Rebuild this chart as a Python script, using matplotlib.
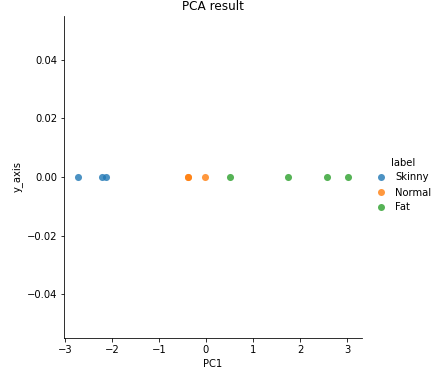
import matplotlib
matplotlib.use("Agg")
import matplotlib.pyplot as plt
from matplotlib.lines import Line2D
import numpy as np

labels = ["Skinny", "Normal", "Fat"]
colors = ["#1f77b4", "#ff7f0e", "#2ca02c"]
pc1_skinny = [-2.73, -2.22, -2.12]
pc1_normal = [-0.385, -0.38, -0.01]
pc1_fat = [0.51, 1.75, 2.58, 3.03]
series = [pc1_skinny, pc1_normal, pc1_fat]

W, H = 435, 374
fig = plt.figure(figsize=(W / 72, H / 72), dpi=72)
ax = fig.add_axes([64 / W, (H - 338) / H, (362 - 64) / W, (338 - 16) / H])

handles = []
for lab, col, xs in zip(labels, colors, series):
    ax.scatter(xs, np.zeros(len(xs)), s=50, color=col, alpha=0.8,
               linewidths=0, label=lab)
    handles.append(Line2D([], [], marker="o", linestyle="", markersize=7,
                          markerfacecolor=col, markeredgewidth=0, alpha=0.8))

ax.set_xlim(-3.02, 3.32)
ax.set_ylim(-0.055, 0.055)
ax.set_xticks([-3, -2, -1, 0, 1, 2, 3])
ax.set_yticks([-0.04, -0.02, 0.0, 0.02, 0.04])
ax.spines["top"].set_visible(False)
ax.spines["right"].set_visible(False)
ax.set_xlabel("PC1")
ax.set_ylabel("y_axis")
ax.set_title("PCA result")

leg = fig.legend(handles=handles, labels=labels, title="label", frameon=False,
                 handlelength=1.2, handletextpad=0.8,
                 loc="center left", bbox_to_anchor=(366 / W, 1 - 185 / H))

fig.savefig("out.png", dpi=72)
